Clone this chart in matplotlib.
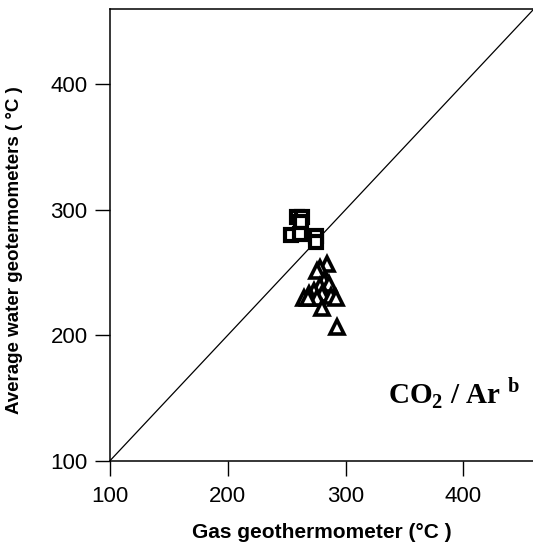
import matplotlib
matplotlib.use("Agg")
from matplotlib import pyplot as plt

plt.rcParams['mathtext.fontset'] = 'custom'
plt.rcParams['mathtext.bf'] = 'Liberation Serif:bold'
plt.rcParams['mathtext.rm'] = 'Liberation Serif:bold'

# squares
sq_x = [259, 263, 262, 254, 261, 275, 275]
sq_y = [294, 294, 290, 280, 281, 279, 274]

# triangles
tr_x = [284, 278, 276, 282, 286, 278, 273, 269, 265, 280, 288, 276, 292, 268, 280, 293]
tr_y = [257, 254, 251, 243, 241, 239, 235, 233, 230, 233, 231, 230, 230, 230, 222, 207]

ticks = [100, 200, 300, 400]

fig = plt.figure(figsize=(5.33, 5.5), dpi=100)
ax = fig.add_axes([0.206, 0.162, 0.796, 0.822])

ax.plot([100, 460], [100, 460], color='black', lw=0.9)
ax.plot(tr_x, tr_y, linestyle='none', marker='^', markersize=9.5,
        markerfacecolor='white', markeredgecolor='black', markeredgewidth=2.6)
ax.plot(sq_x, sq_y, linestyle='none', marker='s', markersize=8.5,
        markerfacecolor='white', markeredgecolor='black', markeredgewidth=3)

ax.set_xlim(100, 460)
ax.set_ylim(100, 460)
ax.set_xticks(ticks)
ax.set_yticks(ticks)
ax.tick_params(direction='out', length=11, width=1, labelsize=16, pad=5)
ax.tick_params(axis='x', pad=7)
for s in ax.spines.values():
    s.set_linewidth(1.1)
ax.spines['right'].set_visible(False)
for lab in ax.get_xticklabels() + ax.get_yticklabels():
    lab.set_fontfamily('Liberation Sans')

ax.set_xlabel("Gas geothermometer (°C )", fontsize=15, fontweight='bold',
              fontfamily='Liberation Sans')
ax.set_ylabel("Average water geotermometers ( °C )", fontsize=13.5, fontweight='bold',
              fontfamily='Liberation Sans')
ax.xaxis.set_label_coords(0.5, -0.138)
ax.yaxis.set_label_coords(-0.205, 0.467)

ax.text(336, 145, r'CO$_\mathbf{2}$ / Ar $^\mathbf{b}$', fontsize=21,
        fontweight='bold', fontfamily='Liberation Serif')

plt.savefig("out.png", dpi=100)
